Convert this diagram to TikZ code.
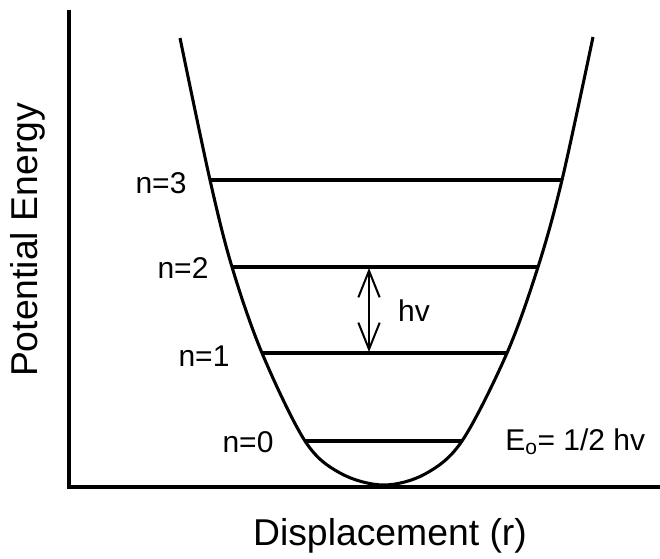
\documentclass[tikz,border=0pt]{standalone}
\usepackage{fontspec}
\setmainfont{Liberation Sans}
\usepackage{tikz}
\usetikzlibrary{arrows.meta, positioning, calc}

\begin{document}
\begin{tikzpicture}[x=0.75pt, y=-0.75pt,
  axis/.style={line width=3.4pt},
  well/.style={line width=2.3pt},
  level/.style={line width=2.3pt},
  lvl/.style={font=\fontsize{22.5}{24}\selectfont},
  big/.style={font=\fontsize{28}{30}\selectfont}]
  \useasboundingbox (0,0) rectangle (660,558);

  % Axes
  \coordinate (O) at (69,487);
  \coordinate (Ytop) at (69,10);
  \coordinate (Xend) at (660,487);
  \draw[axis] (Ytop) -- (O) -- (Xend);

  % Level end points
  \coordinate (L3) at (210,180); \coordinate (R3) at (562,180);
  \coordinate (L2) at (232,267); \coordinate (R2) at (538,267);
  \coordinate (L1) at (262,353); \coordinate (R1) at (507,353);
  \coordinate (L0) at (305,441); \coordinate (R0) at (462,441);

  % Potential well
  \draw[well] plot[smooth, tension=0.55] coordinates {
    (180,38) (L3) (L2) (L1) (L0) (340,473) (383,485) (425,474) (R0) (R1) (R2) (R3) (593,37)};

  % Energy levels
  \draw[level] (L3) -- (R3);
  \draw[level] (L2) -- (R2);
  \draw[level] (L1) -- (R1);
  \draw[level] (L0) -- (R0);

  % Level labels
  \node[lvl] (n3) at (161,183) {n=3};
  \node[lvl] (n2) at (183,268) {n=2};
  \node[lvl] (n1) at (204,356) {n=1};
  \node[lvl] (n0) at (248,442) {n=0};
  \node[lvl, anchor=west, inner sep=0pt] (E0) at (505,442) {E\textsubscript{o}= 1/2 hv};

  % Quantum hv
  \coordinate (Atop) at (369,268);
  \coordinate (Abot) at (369,352);
  \draw[line width=1.5pt, {Straight Barb[length=20pt,width=16pt]}-{Straight Barb[length=20pt,width=16pt]}] (Atop) -- (Abot);
  \node[lvl] (hv) at (414,311) {hv};

  % Axis titles
  \node[big, rotate=90] (ylab) at (28,240) {Potential Energy};
  \node[big] (xlab) at (390,536) {Displacement (r)};
\end{tikzpicture}
\end{document}
